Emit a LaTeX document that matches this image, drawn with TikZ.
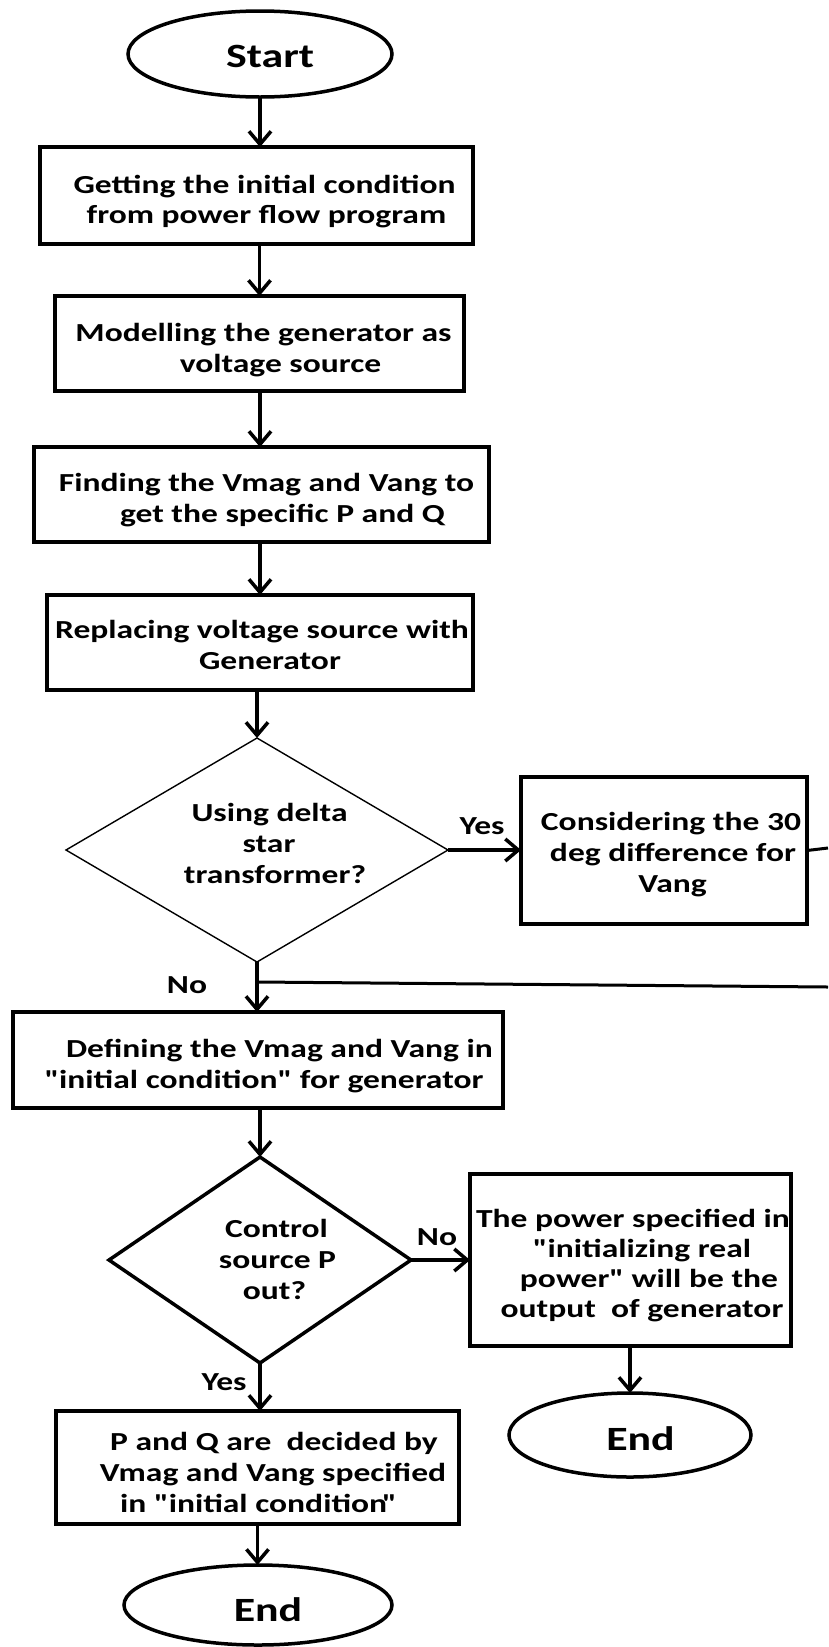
\documentclass[tikz,border=0pt]{standalone}
\usepackage{fontspec}
\setmainfont{Carlito}[FakeStretch=1.29,Ligatures=TeXOff]
\usetikzlibrary{shapes.geometric,arrows.meta}
\def\tdy{0}
\newcommand\tline[2]{\makebox[0pt]{\hspace*{#1pt}\smash{\raisebox{-\tdy pt}{#2}}}}
\begin{document}
\begin{tikzpicture}[x=1pt,y=-1pt,
  every node/.style={font=\fontsize{26}{31}\selectfont\bfseries, align=center, inner sep=0pt, outer sep=0pt},
  sp/.style={font=\fontsize{26}{#1}\selectfont\bfseries},
  tdy/.code={\def\tdy{#1}},
  box/.style={draw, rectangle, line width=3.5pt},
  term/.style={draw, ellipse, line width=3.5pt, font=\fontsize{34}{40}\selectfont\bfseries},
  dec/.style={draw, diamond, line width=3.5pt},
  thindec/.style={draw, diamond, line width=1.4pt},
  arr/.style={-{Straight Barb[length=13pt,width=22pt]}, line width=3.5pt},
  conn/.style={line width=3pt},
  lbl/.style={}]
\useasboundingbox (0,0) rectangle (828,1647);
\fill[white] (0,0) rectangle (828,1647);

\node[term, tdy=13, minimum width=264pt, minimum height=86pt] (start) at (260,54) {\tline{20}{Start}};
\node[box, sp=30, tdy=13, minimum width=433pt, minimum height=97pt] (b1) at (256.5,195.5)
  {\tline{16}{Getting the initial condition}\\\tline{20}{from power flow program}};
\node[box, tdy=13, minimum width=409pt, minimum height=95pt] (b2) at (259.5,343.5)
  {\tline{8}{Modelling the generator as}\\\tline{42}{voltage source}};
\node[box, tdy=12, minimum width=455pt, minimum height=95pt] (b3) at (261.5,494.5)
  {\tline{10}{Finding the Vmag and Vang to}\\\tline{42}{get the specific P and Q}};
\node[box, tdy=11, minimum width=426pt, minimum height=95pt] (b4) at (260,642.5)
  {\tline{4}{Replacing voltage source with}\\\tline{20}{Generator}};
\node[thindec, tdy=2, minimum width=382pt, minimum height=224pt] (d1) at (257,850)
  {\tline{25}{Using delta}\\\tline{24}{star}\\\tline{36}{transformer?}};
\node[box, tdy=10.5, minimum width=286pt, minimum height=147pt] (b5) at (664,850.5)
  {\tline{14}{Considering the 30}\\\tline{18}{deg difference for}\\\tline{17}{Vang}};
\node[box, tdy=12.5, minimum width=490pt, minimum height=96pt] (b6) at (258,1060)
  {\tline{43}{Defining the Vmag and Vang in}\\\tline{12}{"initial condition" for generator}};
\node[dec, tdy=8, minimum width=302pt, minimum height=206pt] (d2) at (260,1260)
  {\tline{33}{Control}\\\tline{35}{source P}\\\tline{29}{out?}};
\node[box, sp=30, tdy=12.5, minimum width=321pt, minimum height=172pt] (b7) at (630.5,1260)
  {\tline{5}{The power specified in}\\\tline{23}{"initializing real}\\\tline{37}{power" will be the}\\\tline{23}{output~ of generator}};
\node[term, tdy=15, minimum width=242pt, minimum height=84pt] (end2) at (630,1435) {\tline{21}{End}};
\node[box, tdy=14, minimum width=403pt, minimum height=113pt] (b8) at (257.5,1467.5)
  {\tline{33}{P and Q are~ decided by}\\\tline{31}{Vmag and Vang specified}\\\tline{2}{in "initial condition\kern-5pt"}};
\node[term, tdy=16.5, minimum width=268pt, minimum height=80pt] (end3) at (258,1605) {\tline{20}{End}};

\node[lbl] (yes1) at (482,826) {Yes};
\node[lbl] (no1) at (187,985) {No};
\node[lbl] (no2) at (437,1237) {No};
\node[lbl] (yes2) at (224,1382) {Yes};

\coordinate (e1) at (828,848);
\coordinate (j) at (258,982);
\coordinate (e2) at (828,987);

\draw[arr] (start.south) -- (start.south |- b1.north);
\draw[arr] ([xshift=3pt]b1.south) -- ([xshift=3pt]b1.south |- b2.north);
\draw[arr] ([xshift=0.5pt]b2.south) -- ([xshift=0.5pt]b2.south |- b3.north);
\draw[arr] ([xshift=-1.5pt]b3.south) -- ([xshift=-1.5pt]b3.south |- b4.north);
\draw[arr] (b4.south -| d1.north) -- (d1.north);
\draw[arr] (d1.east) -- (d1.east -| b5.west);
\draw[conn] (b5.east) -- (e1);
\draw[arr] (d1.south) -- (d1.south |- b6.north);
\draw[conn] (j) -- (e2);
\draw[arr] (b6.south -| d2.north) -- (d2.north);
\draw[arr] (d2.east) -- (d2.east -| b7.west);
\draw[arr] (b7.south -| end2.north) -- (end2.north);
\draw[arr] (d2.south) -- (d2.south |- b8.north);
\draw[arr] (b8.south) -- (b8.south |- end3.north);
\end{tikzpicture}
\end{document}
